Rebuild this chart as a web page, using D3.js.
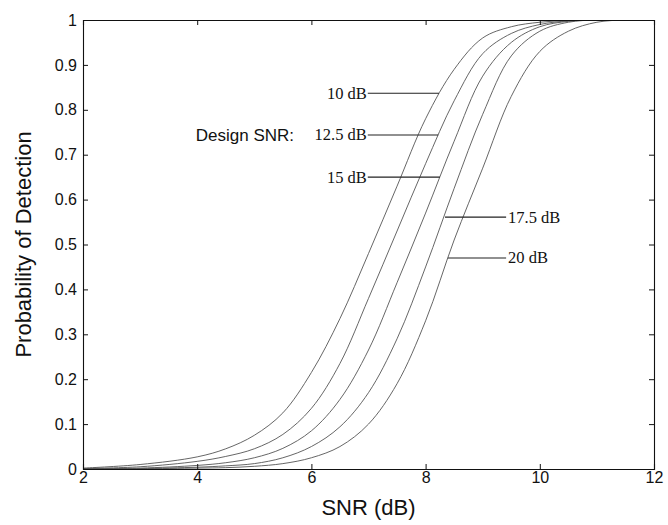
<!DOCTYPE html>
<html>
<head>
<meta charset="utf-8">
<script src="https://cdn.jsdelivr.net/npm/d3@7"></script>
<style>
  html, body { margin: 0; padding: 0; background: #fff; }
  svg { display: block; }
</style>
</head>
<body>
<svg id="chart" width="668" height="525"></svg>
<script>
// ---- data ----
const snr   = [2, 3, 4, 4.5, 5, 5.5, 6, 6.5, 7, 7.5, 8, 8.5, 9, 9.5, 10, 10.5, 11, 11.5, 12];
const pd10  = [0.002, 0.010, 0.027, 0.045, 0.075, 0.125, 0.215, 0.335, 0.48, 0.63, 0.78, 0.89, 0.96, 0.985, 0.995, 0.999, 1, 1, 1];
const pd125 = [0.001, 0.005, 0.017, 0.028, 0.045, 0.077, 0.135, 0.235, 0.38, 0.53, 0.68, 0.82, 0.925, 0.97, 0.99, 0.998, 1, 1, 1];
const pd15  = [0.0005, 0.002, 0.008, 0.014, 0.025, 0.046, 0.085, 0.155, 0.265, 0.415, 0.57, 0.73, 0.875, 0.95, 0.985, 0.997, 1, 1, 1];
const pd175 = [0, 0.001, 0.004, 0.007, 0.012, 0.025, 0.05, 0.094, 0.17, 0.29, 0.45, 0.625, 0.79, 0.92, 0.975, 0.995, 1, 1, 1];
const pd20  = [0, 0.0005, 0.002, 0.003, 0.006, 0.012, 0.025, 0.05, 0.1, 0.19, 0.33, 0.51, 0.67, 0.83, 0.93, 0.975, 0.995, 1, 1];
const seriesNames = ["10 dB", "12.5 dB", "15 dB", "17.5 dB", "20 dB"];
const seriesValues = [pd10, pd125, pd15, pd175, pd20];

const xTicks = [2, 4, 6, 8, 10, 12];
const yTicks = [0, 0.1, 0.2, 0.3, 0.4, 0.5, 0.6, 0.7, 0.8, 0.9, 1];
const yTickLabels = ["0", "0.1", "0.2", "0.3", "0.4", "0.5", "0.6", "0.7", "0.8", "0.9", "1"];

// label pointer lines: where each line meets its curve (snr, pd), label side
const labelNames  = ["10 dB", "12.5 dB", "15 dB", "17.5 dB", "20 dB"];
const labelSnr    = [8.235, 8.22, 8.25, 8.34, 8.39];
const labelPd     = [0.837, 0.744, 0.65, 0.561, 0.47];
const labelTextAt = [6.97, 6.97, 6.97, 9.41, 9.41];
const designLabel = "Design SNR:";

// ---- chart ----
(function () {
const svg = d3.select("#chart");
const mLeft = 83, mRight = 654, mTop = 20, mBottom = 469;
const x = d3.scaleLinear().domain([2, 12]).range([mLeft, mRight]);
const y = d3.scaleLinear().domain([0, 1]).range([mBottom, mTop]);
const sans = "'Liberation Sans', Arial, Helvetica, sans-serif";
const serif = "'Liberation Serif', 'Times New Roman', serif";

svg.append("defs").append("clipPath").attr("id", "plotclip")
  .append("rect").attr("x", mLeft).attr("y", mTop).attr("width", mRight - mLeft).attr("height", mBottom - mTop);

// curves
const line = d3.line().x((d, i) => x(snr[i])).y(d => y(Math.min(1, d))).curve(d3.curveCatmullRom.alpha(0.5));
svg.append("g").attr("clip-path", "url(#plotclip)")
  .selectAll("path").data(seriesValues).join("path")
  .attr("d", d => line(d))
  .attr("fill", "none")
  .attr("stroke", "#555")
  .attr("stroke-width", 0.9);

// axes (inward ticks, box)
const tickLen = 5;
const xAxisB = d3.axisBottom(x).tickValues(xTicks).tickSize(-tickLen).tickPadding(3).tickFormat(d3.format("d"));
const xAxisT = d3.axisTop(x).tickValues(xTicks).tickSize(-tickLen).tickFormat("");
const yAxisL = d3.axisLeft(y).tickValues(yTicks).tickSize(-tickLen).tickPadding(6).tickFormat((d, i) => yTickLabels[i]);
const yAxisR = d3.axisRight(y).tickValues(yTicks).tickSize(-tickLen).tickFormat("");

function style(g) {
  g.selectAll("path.domain").attr("stroke", "#111").attr("stroke-width", 1.1);
  g.selectAll(".tick line").attr("stroke", "#111");
  g.selectAll(".tick text").attr("fill", "#111").style("font-family", sans).style("font-size", "16px");
}
svg.append("g").attr("transform", `translate(0,${mBottom})`).call(xAxisB).call(style);
svg.append("g").attr("transform", `translate(0,${mTop})`).call(xAxisT).call(style);
svg.append("g").attr("transform", `translate(${mLeft},0)`).call(yAxisL).call(style);
svg.append("g").attr("transform", `translate(${mRight},0)`).call(yAxisR).call(style);

// axis titles
svg.append("text")
  .attr("x", (mLeft + mRight) / 2).attr("y", 515)
  .attr("text-anchor", "middle")
  .style("font-family", sans).style("font-size", "22px").attr("fill", "#111")
  .text("SNR (dB)");
svg.append("text")
  .attr("transform", `translate(31,${(mTop + mBottom) / 2}) rotate(-90)`)
  .attr("text-anchor", "middle")
  .style("font-family", sans).style("font-size", "22px").attr("fill", "#111")
  .text("Probability of Detection");

// pointer labels
const lg = svg.append("g");
labelNames.forEach((name, i) => {
  const isLeft = labelTextAt[i] < labelSnr[i];
  const tx = x(labelTextAt[i]);
  const py = y(labelPd[i]);
  lg.append("line")
    .attr("x1", tx + (isLeft ? 1 : 0)).attr("x2", x(labelSnr[i]))
    .attr("y1", py).attr("y2", py)
    .attr("stroke", "#222").attr("stroke-width", 1.1);
  lg.append("text")
    .attr("x", isLeft ? tx : tx + 2).attr("y", py + 5.5)
    .attr("text-anchor", isLeft ? "end" : "start")
    .style("font-family", serif).style("font-size", "16.5px").attr("fill", "#111")
    .text(name);
});
lg.append("text")
  .attr("x", 294).attr("y", y(labelPd[1]) + 6)
  .attr("text-anchor", "end")
  .style("font-family", sans).style("font-size", "17px").attr("fill", "#111")
  .text(designLabel);
})();
</script>
</body>
</html>
